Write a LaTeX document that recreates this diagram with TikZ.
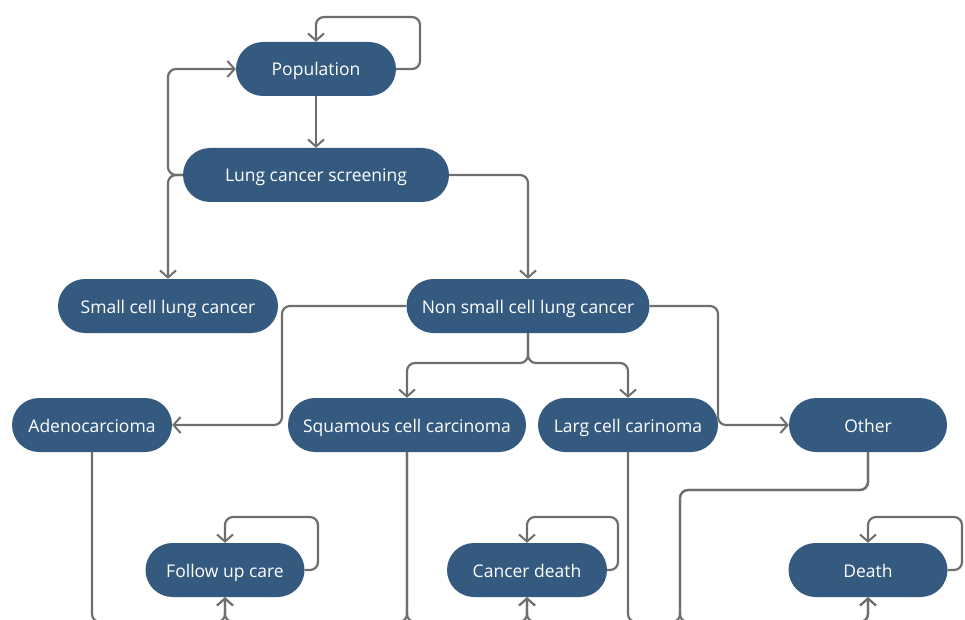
\documentclass[tikz,border=0pt]{standalone}
\usepackage{fontspec}
\setmainfont{Open Sans}
\usetikzlibrary{arrows.meta}
\definecolor{boxblue}{HTML}{355A80}
\definecolor{linegrey}{HTML}{6E6E6E}
\tikzset{
  box/.style={draw=none, fill=boxblue, text=white, rectangle, rounded corners=27pt,
    minimum height=54pt, inner sep=0pt, text height=15pt, text depth=1pt,
    font=\fontsize{17.5}{20}\selectfont},
  conn/.style={draw=linegrey, line width=2.2pt, rounded corners=8pt,
    -{Straight Barb[length=7pt,width=16pt,line width=2pt]}},
}
\begin{document}
\begin{tikzpicture}[x=1pt,y=-1pt]
\useasboundingbox (0,0) rectangle (965,620);
\clip (0,0) rectangle (965,620);
\node[box, minimum width=160pt] (pop) at (316,69) {Population};
\node[box, minimum width=266pt] (lcs) at (316,175) {Lung cancer screening};
\node[box, minimum width=220pt] (small) at (168,306) {Small cell lung cancer};
\node[box, minimum width=243pt] (nsclc) at (528,306) {Non small cell lung cancer};
\node[box, minimum width=160pt] (adeno) at (92,425) {Adenocarcioma};
\node[box, minimum width=238pt] (sq) at (407,425) {Squamous cell carcinoma};
\node[box, minimum width=180pt] (larg) at (628,425) {Larg cell carinoma};
\node[box, minimum width=158pt] (other) at (868,425) {Other};
\node[box, minimum width=159pt] (fu) at (225,570) {Follow up care};
\node[box, minimum width=160pt] (cd) at (527,570) {Cancer death};
\node[box, minimum width=159pt] (death) at (868,570) {Death};
\coordinate (poploop) at (420,17);
\coordinate (fuloop) at (318,517);
\coordinate (cdloop) at (618,517);
\coordinate (deathloop) at (962,517);
\coordinate (lcsup) at (168,69);
\coordinate (adk) at (282,425);
\coordinate (oth) at (718,425);
\coordinate (split) at (528,363);
\coordinate (adb) at (92,622);
\coordinate (sqb) at (407,622);
\coordinate (lgb) at (628,622);
\coordinate (otm) at (868,490);
\coordinate (otb) at (680,622);
% connectors
\draw[conn] (pop.east) -| (poploop) -| (pop.north);
\draw[conn] (pop.south) -- (lcs.north);
\draw[conn] (lcs.west) -| (lcsup) -- (pop.west);
\draw[conn] (lcs.west) -| (small.north);
\draw[conn] (lcs.east) -| (nsclc.north);
\draw[conn] (nsclc.west) -| (adk) -- (adeno.east);
\draw[conn] (nsclc.south) -- (split) -| (sq.north);
\draw[conn] (nsclc.south) -- (split) -| (larg.north);
\draw[conn] (nsclc.east) -| (oth) -- (other.west);
\draw[conn] (fu.east) -| (fuloop) -| (fu.north);
\draw[conn] (cd.east) -| (cdloop) -| (cd.north);
\draw[conn] (death.east) -| (deathloop) -| (death.north);
\draw[conn] (adeno.south) -- (adb) -| (fu.south);
\draw[conn] (sq.south) -- (sqb) -| (fu.south);
\draw[conn] (sq.south) -- (sqb) -| (cd.south);
\draw[conn] (larg.south) -- (lgb) -| (death.south);
\draw[conn] (other.south) -- (otm) -| (otb) -| (cd.south);
\draw[conn] (other.south) -- (otm) -| (otb) -| (death.south);
\end{tikzpicture}
\end{document}
